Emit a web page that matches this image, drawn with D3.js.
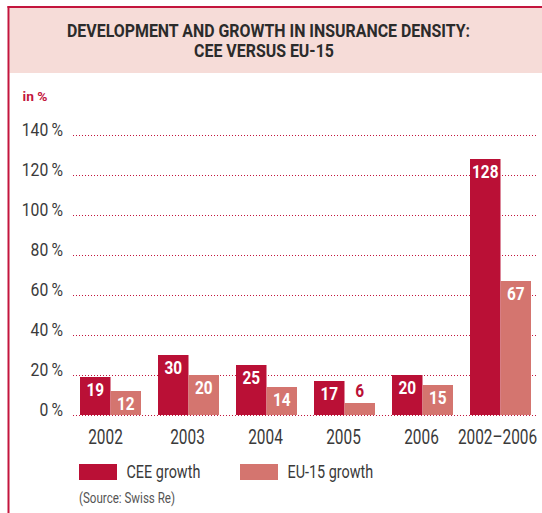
<!DOCTYPE html>
<html>
<head>
<meta charset="utf-8">
<script src="https://cdn.jsdelivr.net/npm/d3@7"></script>
<style>
  body { margin: 0; background: #fff; }
  text { font-family: Roboto, 'DejaVu Sans Condensed', sans-serif; }
</style>
</head>
<body>
<div id="chart"></div>
<script>
const categories = ['2002', '2003', '2004', '2005', '2006', '2002\u20132006']
const seriesNames = ['CEE growth', 'EU-15 growth']
const ceeValues = [19, 30, 25, 17, 20, 128]
const euValues = [12, 20, 14, 6, 15, 67]
const yTicks = [0, 20, 40, 60, 80, 100, 120, 140]

const colors = { cee: '#ba1036', eu: '#d4756f', frame: '#c3153d', pink: '#f6dcd8' }

const width = 542
const height = 513

// the original uses a condensed face, so squeeze the glyphs horizontally
function squeeze(sel, k) {
  sel.each(function() {
    const len = this.getComputedTextLength()
    d3.select(this)
      .attr('textLength', len * k)
      .attr('lengthAdjust', 'spacingAndGlyphs')
  })
}

const svg = d3
  .select('#chart')
  .append('svg')
  .attr('width', width)
  .attr('height', height)

// frame + header
svg.append('rect').attr('x', 9.5).attr('y', 8).attr('width', width - 9.5).attr('height', 65).attr('fill', colors.pink)
svg.append('line').attr('x1', 7.5).attr('x2', width).attr('y1', 7).attr('y2', 7).attr('stroke', colors.frame).attr('stroke-width', 2)
svg.append('line').attr('x1', 8.5).attr('x2', 8.5).attr('y1', 6).attr('y2', height).attr('stroke', colors.frame).attr('stroke-width', 2)

const t1 = svg
  .append('text')
  .text('DEVELOPMENT AND GROWTH IN INSURANCE DENSITY:')
  .attr('x', 268.5)
  .attr('y', 36.5)
  .attr('text-anchor', 'middle')
  .attr('font-weight', 'bold')
  .attr('font-size', 18)
  .attr('fill', '#2b2b2b')
const titleK = 403 / t1.node().getComputedTextLength()
squeeze(t1, titleK)

const t2 = svg
  .append('text')
  .text('CEE VERSUS EU-15')
  .attr('x', 264)
  .attr('y', 57)
  .attr('text-anchor', 'middle')
  .attr('font-weight', 'bold')
  .attr('font-size', 18)
  .attr('fill', '#2b2b2b')
squeeze(t2, titleK)

svg
  .append('text')
  .text('in %')
  .attr('x', 22.5)
  .attr('y', 101)
  .attr('font-size', 13)
  .attr('font-weight', 'bold')
  .attr('fill', colors.frame)
  .attr('textLength', 25)
  .attr('lengthAdjust', 'spacingAndGlyphs')

const yScale = d3.scaleLinear().domain([0, 140]).range([415, 135])

const xScale = d3
  .scaleBand()
  .domain(categories)
  .range([80, 531])
  .paddingInner(0.218)
  .paddingOuter(0)

const subScale = d3
  .scaleBand()
  .domain(['cee', 'eu'])
  .range([0, xScale.bandwidth()])

// gridlines via axis
const yAxis = d3
  .axisLeft(yScale)
  .tickValues(yTicks)
  .tickSize(-(538 - 73))
  .tickFormat(d => d + '\u2009%')

const yg = svg
  .append('g')
  .attr('class', 'y-axis')
  .attr('transform', 'translate(73,0)')
  .call(yAxis)
yg.select('.domain').remove()
yg.selectAll('line')
  .attr('stroke', colors.frame)
  .attr('stroke-width', 1)
  .attr('stroke-dasharray', '1,2')
yg.selectAll('text')
  .attr('x', -10)
  .attr('dy', 0)
  .attr('font-size', 18.5)
  .attr('fill', '#3a3a3a')
  .attr('font-family', "Roboto, 'DejaVu Sans Condensed', sans-serif")
squeeze(yg.selectAll('text'), 0.85)

const data = categories.map((c, i) => ({ cat: c, cee: ceeValues[i], eu: euValues[i] }))

const groups = svg
  .selectAll('.group')
  .data(data)
  .enter()
  .append('g')
  .attr('class', 'group')
  .attr('transform', d => 'translate(' + xScale(d.cat) + ',0)')

const bars = groups
  .selectAll('.bar')
  .data(d => ['cee', 'eu'].map(k => ({ key: k, value: d[k] })))
  .enter()

bars
  .append('rect')
  .attr('x', d => subScale(d.key))
  .attr('y', d => yScale(d.value))
  .attr('width', subScale.bandwidth())
  .attr('height', d => yScale(0) - yScale(d.value))
  .attr('fill', d => colors[d.key])

const valueLabels = bars
  .append('text')
  .text(d => d.value)
  .attr('x', d => subScale(d.key) + subScale.bandwidth() / 2)
  .attr('y', d => {
    const h = yScale(0) - yScale(d.value)
    return h < 20 ? yScale(d.value) - 6 : yScale(d.value) + 18.5
  })
  .attr('text-anchor', 'middle')
  .attr('font-size', 17.5)
  .attr('font-weight', 'bold')
  .attr('fill', d => (yScale(0) - yScale(d.value) < 20 ? colors.cee : '#fff'))
squeeze(valueLabels, 0.88)

// x labels, narrowed with a scale transform
svg
  .selectAll('.x-label')
  .data(categories)
  .enter()
  .append('text')
  .attr('class', 'x-label')
  .text(d => d)
  .attr('transform', d => {
    const cx = xScale(d) + xScale.bandwidth() / 2 - (d === '2002' ? 5 : d.length > 4 ? 3 : 1)
    return 'translate(' + cx + ',444) scale(0.77,1)'
  })
  .attr('text-anchor', 'middle')
  .attr('font-size', 20)
  .attr('fill', '#3a3a3a')

// legend
const legend = svg
  .selectAll('.legend')
  .data(seriesNames)
  .enter()
  .append('g')
  .attr('transform', (d, i) => 'translate(' + (79 + i * 161) + ',464)')

legend
  .append('rect')
  .attr('width', 38)
  .attr('height', 16)
  .attr('fill', (d, i) => (i === 0 ? colors.cee : colors.eu))

const legendText = legend
  .append('text')
  .text(d => d)
  .attr('x', 47.5)
  .attr('y', 14)
  .attr('font-size', 18)
  .attr('fill', '#3a3a3a')
squeeze(legendText, 0.8)

svg
  .append('text')
  .text('(Source: Swiss Re)')
  .attr('x', 79)
  .attr('y', 503)
  .attr('font-size', 14)
  .attr('fill', '#555')
  .attr('textLength', 96)
  .attr('lengthAdjust', 'spacingAndGlyphs')
</script>
</body>
</html>
